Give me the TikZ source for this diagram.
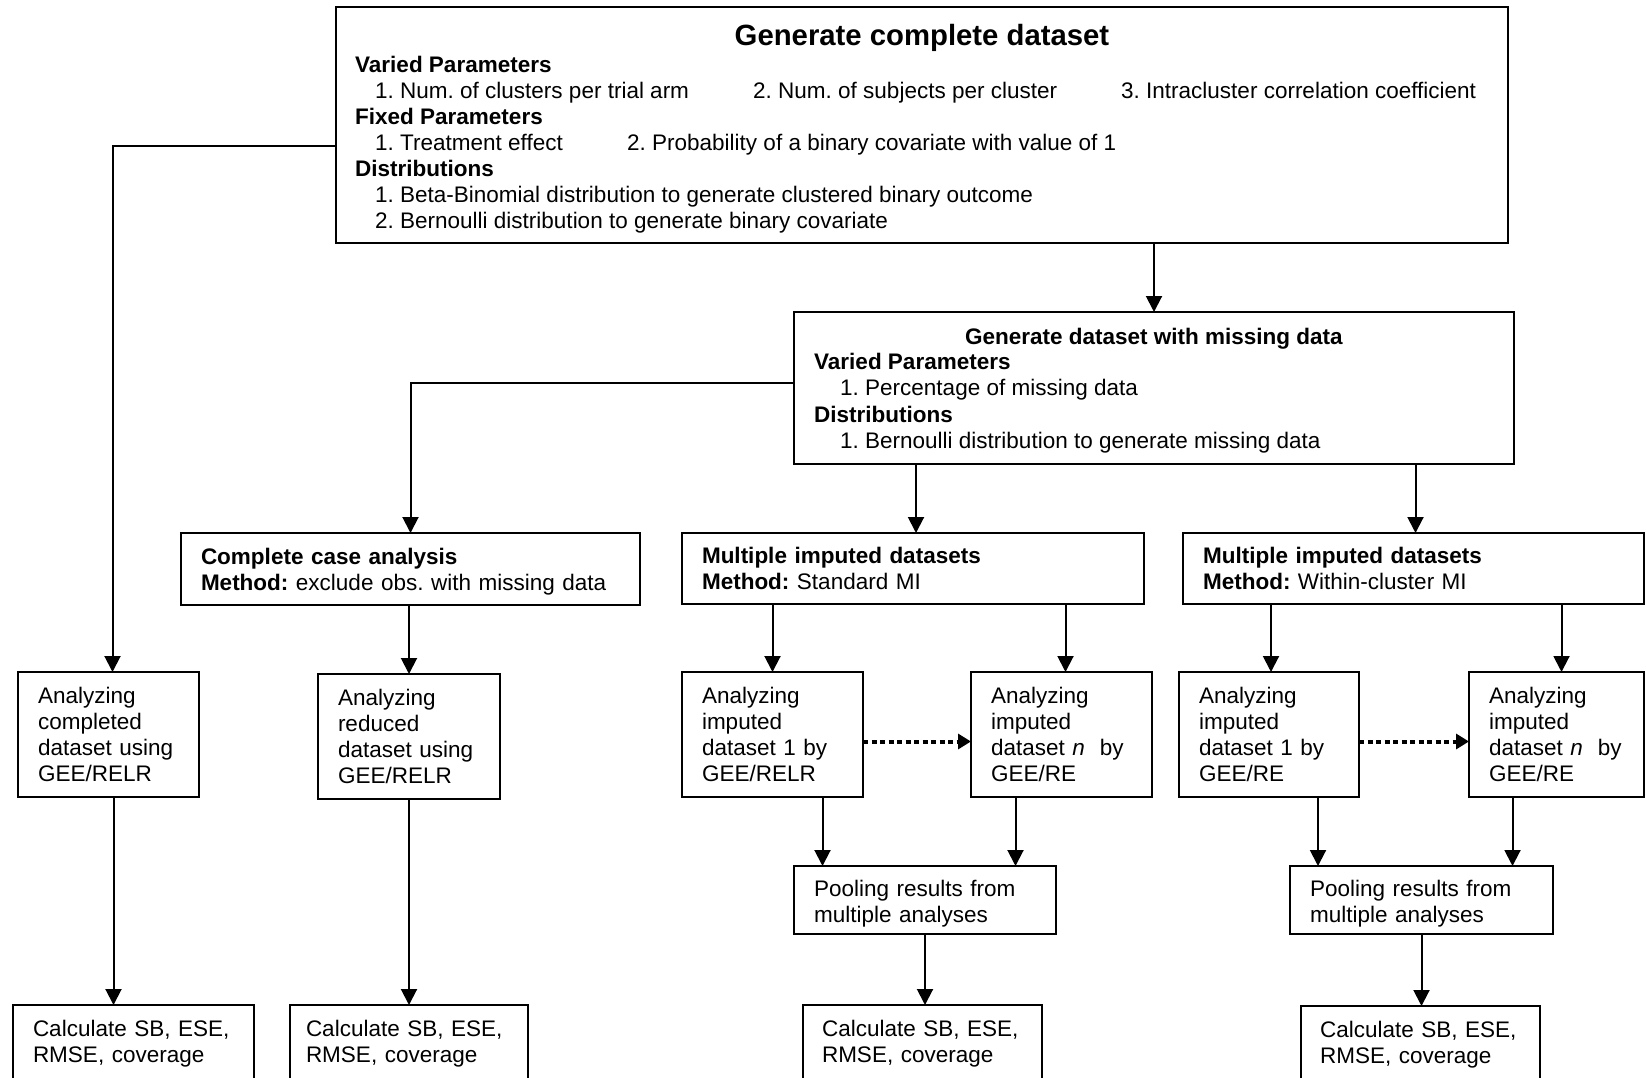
\documentclass[tikz,border=0pt]{standalone}
\usepackage{fontspec}
\setmainfont{Liberation Sans}
\usetikzlibrary{arrows.meta}
\frenchspacing

\begin{document}
\begin{tikzpicture}[x=1pt, y=-1pt,
        font=\fontsize{22.5}{26}\selectfont,
        box/.style={draw, line width=2pt, outer sep=0pt, anchor=north west,
            inner xsep=20pt, inner ysep=0pt, align=left},
        lbl/.style={anchor=base west, inner sep=0pt},
        arr/.style={line width=2pt, -{Triangle[length=16pt, width=16pt]}},
        dotarr/.style={line width=4pt, dash pattern=on 5pt off 3.5pt,
            -{Triangle[length=13pt, width=15pt]}}]
            \clip (0,0) rectangle (1646,1078);

            % generate complete dataset
            \node[box, minimum width=1172pt, minimum height=236pt] (gen) at (336,7) {};
            \node[anchor=base, inner sep=0pt, font=\fontsize{29.3}{34}\selectfont\bfseries] (gentitle) at (922,46) {Generate complete dataset};
            \node[lbl] (genvp) at (355,73) {\textbf{Varied Parameters}};
            \node[lbl] (genvpa) at (375,99) {1. Num. of clusters per trial arm};
            \node[lbl] (genvpb) at (753,99) {2. Num. of subjects per cluster};
            \node[lbl] (genvpc) at (1121,99) {3. Intracluster correlation coefficient};
            \node[lbl] (genfp) at (355,125) {\textbf{Fixed Parameters}};
            \node[lbl] (genfpa) at (375,151) {1. Treatment effect};
            \node[lbl] (genfpb) at (627,151) {2. Probability of a binary covariate with value of 1};
            \node[lbl] (gendi) at (355,177) {\textbf{Distributions}};
            \node[lbl] (gendia) at (375,203) {1. Beta-Binomial distribution to generate clustered binary outcome};
            \node[lbl] (gendib) at (375,229) {2. Bernoulli distribution to generate binary covariate};

            % generate dataset with missing data
            \node[box, minimum width=720pt, minimum height=152pt] (miss) at (794,312) {};
            \node[anchor=base, inner sep=0pt] (misstitle) at (1154,344) {\textbf{Generate dataset with missing data}};
            \node[lbl] (missvp) at (814,369) {\textbf{Varied Parameters}};
            \node[lbl] (missvpa) at (840,395) {1. Percentage of missing data};
            \node[lbl] (missdi) at (814,422) {\textbf{Distributions}};
            \node[lbl] (missdia) at (840,448) {1. Bernoulli distribution to generate missing data};

            % methods
            \node[box, text width=419pt, minimum height=72pt] (cca) at (181,533) {\rule{0pt}{22pt}\textbf{Complete case analysis}\\\textbf{Method:} exclude obs. with missing data};
            \node[box, text width=422pt, minimum height=71pt] (mistd) at (682,533) {\textbf{Multiple imputed datasets}\\\textbf{Method:} Standard MI};
            \node[box, text width=421pt, minimum height=71pt] (miwc) at (1183,533) {\textbf{Multiple imputed datasets}\\\textbf{Method:} Within-cluster MI};

            % analyses
            \node[box, text width=141pt, minimum height=125pt] (anc) at (18,672) {Analyzing\\completed\\dataset using\\GEE/RELR};
            \node[box, text width=142pt, minimum height=125pt] (anr) at (318,674) {Analyzing\\reduced\\dataset using\\GEE/RELR};
            \node[box, text width=141pt, minimum height=125pt] (ans1) at (682,672) {Analyzing\\imputed\\dataset 1 by\\GEE/RELR};
            \node[box, text width=141pt, minimum height=125pt] (ansn) at (971,672) {Analyzing\\imputed\\dataset \textit{n}\ \ by\\GEE/RE};
            \node[box, text width=140pt, minimum height=125pt] (anw1) at (1179,672) {Analyzing\\imputed\\dataset 1 by\\GEE/RE};
            \node[box, text width=135pt, minimum height=125pt] (anwn) at (1469,672) {Analyzing\\imputed\\dataset \textit{n}\ \ by\\GEE/RE};

            % pooling
            \node[box, text width=222pt, minimum height=68pt] (pools) at (794,866) {\rule{0pt}{24.5pt}Pooling results from\\multiple analyses};
            \node[box, text width=223pt, minimum height=68pt] (poolw) at (1290,866) {\rule{0pt}{24.5pt}Pooling results from\\multiple analyses};

            % performance measures
            \node[box, text width=201pt, minimum height=78pt] (calcc) at (13,1005) {Calculate SB, ESE,\\RMSE, coverage};
            \node[box, inner xsep=16pt, text width=206pt, minimum height=78pt] (calcr) at (290,1005) {Calculate SB, ESE,\\RMSE, coverage};
            \node[box, inner xsep=19pt, text width=201pt, minimum height=78pt] (calcs) at (803,1005) {Calculate SB, ESE,\\RMSE, coverage};
            \node[box, inner xsep=19pt, text width=201pt, minimum height=78pt] (calcw) at (1301,1006) {Calculate SB, ESE,\\RMSE, coverage};

            \draw[arr] ([yshift=-21pt]gen.west) -| ([xshift=4pt]anc.north);
            \draw[arr] (gen.south -| miss.north) -- (miss.north);
            \draw[arr] ([yshift=5pt]miss.west) -| (cca.north);
            \draw[arr] ([xshift=3pt]mistd.north |- miss.south) -- ([xshift=3pt]mistd.north);
            \draw[arr] ([xshift=2pt]miwc.north |- miss.south) -- ([xshift=2pt]miwc.north);

            \draw[arr] (cca.south -| anr.north) -- (anr.north);
            \draw[arr] (mistd.south -| ans1.north) -- (ans1.north);
            \draw[arr] ([xshift=4pt]ansn.north |- mistd.south) -- ([xshift=4pt]ansn.north);
            \draw[arr] ([xshift=2pt]anw1.north |- miwc.south) -- ([xshift=2pt]anw1.north);
            \draw[arr] ([xshift=5pt]anwn.north |- miwc.south) -- ([xshift=5pt]anwn.north);

            \draw[dotarr] ([yshift=-7pt]ans1.east) -- ([yshift=-7pt]ansn.west);
            \draw[dotarr] ([yshift=-7pt]anw1.east) -- ([yshift=-7pt]anwn.west);

            \draw[arr] ([xshift=50pt]ans1.south) -- ([xshift=50pt]ans1.south |- pools.north);
            \draw[arr] ([xshift=-46pt]ansn.south) -- ([xshift=-46pt]ansn.south |- pools.north);
            \draw[arr] ([xshift=49pt]anw1.south) -- ([xshift=49pt]anw1.south |- poolw.north);
            \draw[arr] ([xshift=-44pt]anwn.south) -- ([xshift=-44pt]anwn.south |- poolw.north);

            \draw[arr] ([xshift=5pt]anc.south) -- ([xshift=5pt]anc.south |- calcc.north);
            \draw[arr] (anr.south) -- (anr.south |- calcr.north);
            \draw[arr] (pools.south) -- (pools.south |- calcs.north);
            \draw[arr] (poolw.south) -- (poolw.south |- calcw.north);
        \end{tikzpicture}
\end{document}
